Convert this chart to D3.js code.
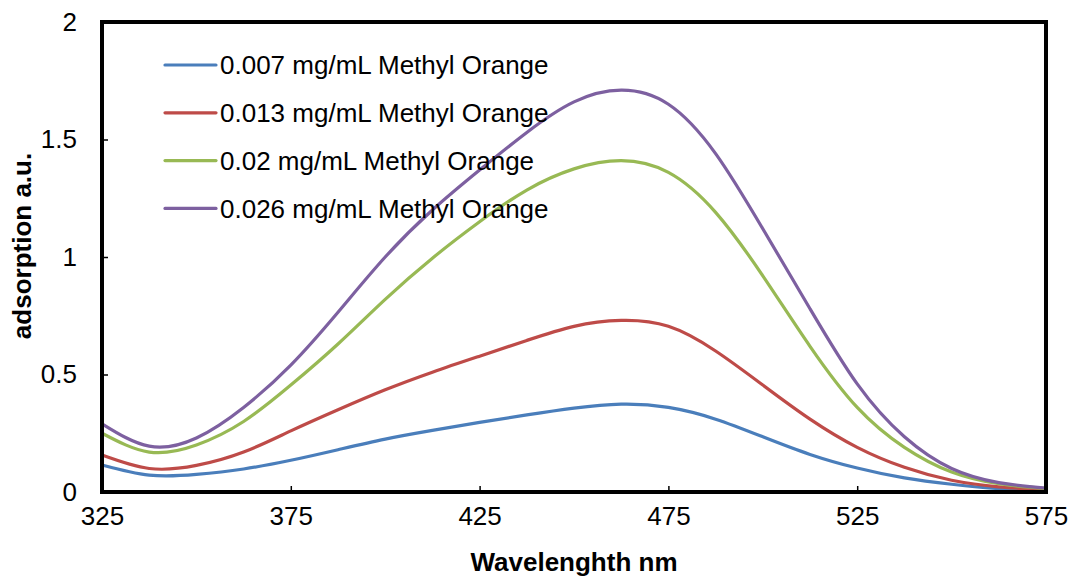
<!DOCTYPE html>
<html>
<head>
<meta charset="utf-8">
<script src="https://cdn.jsdelivr.net/npm/d3@7"></script>
<style>
  body { margin: 0; background: #fff; }
  svg text { font-family: "Liberation Sans", Arial, sans-serif; fill: #000; }
</style>
</head>
<body>
<div id="chart"></div>
<script>
const wavelengths = [325, 337.5, 350, 362.5, 375, 387.5, 400, 412.5, 425, 437.5, 450, 462.5, 475, 487.5, 500, 512.5, 525, 537.5, 550, 562.5, 575];
const mo007 = [0.115, 0.072, 0.075, 0.098, 0.135, 0.18, 0.225, 0.262, 0.296, 0.328, 0.357, 0.374, 0.36, 0.31, 0.235, 0.16, 0.102, 0.06, 0.033, 0.014, 0.005];
const mo013 = [0.157, 0.1, 0.113, 0.17, 0.26, 0.35, 0.435, 0.51, 0.578, 0.645, 0.705, 0.73, 0.705, 0.6, 0.455, 0.31, 0.19, 0.105, 0.05, 0.022, 0.01];
const mo02 = [0.25, 0.17, 0.2, 0.3, 0.455, 0.63, 0.82, 0.995, 1.15, 1.285, 1.375, 1.41, 1.36, 1.19, 0.92, 0.62, 0.36, 0.19, 0.085, 0.035, 0.015];
const mo026 = [0.29, 0.195, 0.23, 0.36, 0.54, 0.765, 1.0, 1.2, 1.37, 1.53, 1.66, 1.71, 1.65, 1.44, 1.12, 0.78, 0.46, 0.235, 0.1, 0.04, 0.017];

const seriesNames = ['0.007 mg/mL Methyl Orange', '0.013 mg/mL Methyl Orange', '0.02 mg/mL Methyl Orange', '0.026 mg/mL Methyl Orange'];
const seriesColors = ['#4A7EBB', '#BE4B48', '#98B954', '#7D60A0'];
const xTicks = [325, 375, 425, 475, 525, 575];
const yTicks = [0, 0.5, 1, 1.5, 2];

const W = 1073, H = 579;
const m = { left: 102, right: 1046, top: 22, bottom: 492 };

const svg = d3.select('#chart').append('svg')
  .attr('width', W).attr('height', H);

const x = d3.scaleLinear().domain([325, 575]).range([m.left, m.right]);
const y = d3.scaleLinear().domain([0, 2]).range([m.bottom, m.top]);

// tick marks inside the frame
const xAxis = svg.append('g')
  .attr('transform', `translate(0,${m.bottom})`)
  .call(d3.axisBottom(x).tickValues(xTicks).tickSize(-6).tickFormat(d => d).tickPadding(24));
const yAxis = svg.append('g')
  .attr('transform', `translate(${m.left},0)`)
  .call(d3.axisLeft(y).tickValues(yTicks).tickSize(-6).tickFormat(d => d).tickPadding(25));

[xAxis, yAxis].forEach(a => {
  a.select('.domain').remove();
  a.selectAll('.tick line').attr('stroke', '#000').attr('stroke-width', 1.5);
  a.selectAll('.tick text').attr('font-size', '26px').attr('fill', '#000')
    .style('font-family', '"Liberation Sans", Arial, sans-serif');
});
xAxis.selectAll('.tick text').attr('dy', '0.35em');

const series = [mo007, mo013, mo02, mo026];
const line = d3.line()
  .x((d, i) => x(wavelengths[i]))
  .y(d => y(d))
  .curve(d3.curveNatural);

svg.append('g').selectAll('path')
  .data(series)
  .join('path')
  .attr('d', line)
  .attr('fill', 'none')
  .attr('stroke', (d, i) => seriesColors[i])
  .attr('stroke-width', 3.2);

// frame
svg.append('rect')
  .attr('x', m.left).attr('y', m.top)
  .attr('width', m.right - m.left).attr('height', m.bottom - m.top)
  .attr('fill', 'none').attr('stroke', '#000').attr('stroke-width', 4);

// legend
const legend = svg.append('g');
seriesNames.forEach((name, i) => {
  const cy = 65 + i * 47.8;
  legend.append('line')
    .attr('x1', 165).attr('x2', 216).attr('y1', cy).attr('y2', cy)
    .attr('stroke', seriesColors[i]).attr('stroke-width', 3.2).attr('stroke-linecap', 'round');
  legend.append('text')
    .attr('x', 220).attr('y', cy).attr('dy', '0.35em')
    .attr('font-size', '26px').text(name);
});

svg.append('text')
  .attr('x', 574).attr('y', 562).attr('dy', '0.35em')
  .attr('text-anchor', 'middle').attr('font-size', '26px').attr('font-weight', 'bold')
  .text('Wavelenghth nm');

svg.append('text')
  .attr('transform', 'translate(22,246) rotate(-90)')
  .attr('dy', '0.35em')
  .attr('text-anchor', 'middle').attr('font-size', '26px').attr('font-weight', 'bold')
  .text('adsorption a.u.');
</script>
</body>
</html>
